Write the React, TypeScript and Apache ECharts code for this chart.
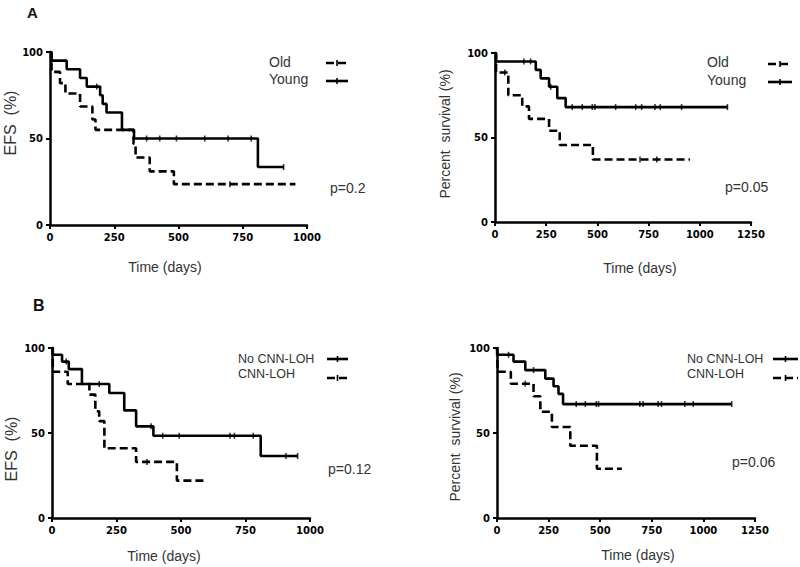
import React, { useEffect, useRef } from "react";
import * as echarts from "echarts";

// ---- Data ----
// Each curve: [time (days), survival (%) after the event]
const efsOldSteps: [number, number][] = [[0, 100], [6, 88.5], [39, 82], [60, 76], [117, 68.5], [165, 61], [177, 55], [325, 47], [333, 39], [388, 31], [482, 23.6]];
const efsOldEnd = 955;
const efsOldCensor = [700];

const efsYoungSteps: [number, number][] = [[0, 100], [6, 95], [65, 90], [117, 85], [143, 80], [195, 75], [205, 70], [220, 65], [280, 55], [327, 50], [809, 33.5]];
const efsYoungEnd = 909;
const efsYoungCensor = [182, 376, 427, 492, 602, 693, 783, 909];

const osOldSteps: [number, number][] = [[0, 100], [5, 88.5], [65, 75], [133, 68.4], [166, 61], [264, 54], [316, 45.6], [478, 37]];
const osOldEnd = 952;
const osOldCensor = [48, 708, 790];

const osYoungSteps: [number, number][] = [[0, 100], [5, 95], [199, 90], [223, 85], [264, 80], [304, 73.3], [345, 68]];
const osYoungEnd = 1135;
const osYoungCensor = [141, 174, 272, 377, 426, 475, 488, 589, 687, 716, 781, 807, 911, 1135];

const efsNoLohSteps: [number, number][] = [[0, 100], [3, 96], [39, 92], [65, 87.6], [116, 78.8], [222, 73.5], [280, 63.3], [326, 53.9], [393, 48.4], [809, 36.5]];
const efsNoLohEnd = 952;
const efsNoLohCensor = [55, 183, 384, 429, 493, 690, 707, 780, 907, 952];

const efsLohSteps: [number, number][] = [[0, 100], [3, 86], [61, 78.8], [145, 72.6], [168, 62.8], [183, 57], [203, 41], [326, 33], [484, 22]];
const efsLohEnd = 600;
const efsLohCensor = [368];

const osNoLohSteps: [number, number][] = [[0, 100], [3, 96], [80, 92], [137, 87], [234, 82], [274, 77.5], [298, 73], [320, 67]];
const osNoLohEnd = 1137;
const osNoLohCensor = [56, 177, 384, 428, 481, 492, 692, 708, 781, 797, 910, 951, 1137];

const osLohSteps: [number, number][] = [[0, 100], [3, 86], [67, 79], [177, 71.6], [210, 62.5], [266, 53.5], [355, 42.5], [484, 29]];
const osLohEnd = 605;
const osLohCensor = [137];

const yTicks = [0, 50, 100];
const xMaxEfs = 1000;
const xMaxOs = 1250;
const xInterval = 250;

const pValues = ["p=0.2", "p=0.05", "p=0.12", "p=0.06"];

// ---- helpers ----
function curveData(steps: [number, number][], end: number) {
  const last = steps[steps.length - 1][1];
  return [...steps, [end, last]];
}
function survivalAt(steps: [number, number][], t: number) {
  let s = 100;
  for (const [tt, v] of steps) if (tt <= t) s = v;
  return s;
}
function censorData(steps: [number, number][], times: number[]) {
  return times.map((t) => [t, survivalAt(steps, t)]);
}

const FONT = "'Liberation Sans', Arial, sans-serif";
const TICKFONT = "'DejaVu Sans', 'Liberation Sans', sans-serif";

export default function App() {
  const ref = useRef<HTMLDivElement>(null);
  useEffect(() => {
    if (!ref.current) return;
    const chart = echarts.init(ref.current, undefined, { renderer: "svg" });

    const grids = [
      { left: 50, top: 52, width: 257, height: 173 },
      { left: 495, top: 53, width: 256, height: 169 },
      { left: 52, top: 348, width: 258, height: 170 },
      { left: 497, top: 348, width: 258, height: 170 },
    ];
    const xMaxes = [xMaxEfs, xMaxOs, xMaxEfs, xMaxOs];

    const axisCommon = {
      axisLine: { show: true, onZero: false, lineStyle: { color: "#000", width: 2.5 } },
      axisTick: { show: true, length: 4, lineStyle: { color: "#000", width: 2 } },
      splitLine: { show: false },
      axisLabel: {
        color: "#000",
        fontFamily: TICKFONT,
        fontWeight: "bold",
        fontSize: 10,
        margin: 7,
        formatter: (v: number) => String(v),
      },
    };

    const xAxis = grids.map((_, i) => ({
      type: "value",
      gridIndex: i,
      min: 0,
      max: xMaxes[i],
      interval: xInterval,
      ...axisCommon,
    }));
    const yAxis = grids.map((_, i) => ({
      type: "value",
      gridIndex: i,
      min: yTicks[0],
      max: yTicks[yTicks.length - 1],
      interval: yTicks[1] - yTicks[0],
      ...axisCommon,
    }));

    const panels = [
      [
        { name: "Old", steps: efsOldSteps, end: efsOldEnd, censor: efsOldCensor, dashed: true },
        { name: "Young", steps: efsYoungSteps, end: efsYoungEnd, censor: efsYoungCensor, dashed: false },
      ],
      [
        { name: "Old", steps: osOldSteps, end: osOldEnd, censor: osOldCensor, dashed: true },
        { name: "Young", steps: osYoungSteps, end: osYoungEnd, censor: osYoungCensor, dashed: false },
      ],
      [
        { name: "No CNN-LOH", steps: efsNoLohSteps, end: efsNoLohEnd, censor: efsNoLohCensor, dashed: false },
        { name: "CNN-LOH", steps: efsLohSteps, end: efsLohEnd, censor: efsLohCensor, dashed: true },
      ],
      [
        { name: "No CNN-LOH", steps: osNoLohSteps, end: osNoLohEnd, censor: osNoLohCensor, dashed: false },
        { name: "CNN-LOH", steps: osLohSteps, end: osLohEnd, censor: osLohCensor, dashed: true },
      ],
    ];

    const series: any[] = [];
    panels.forEach((p, i) => {
      p.forEach((c) => {
        series.push({
          type: "line",
          name: c.name,
          xAxisIndex: i,
          yAxisIndex: i,
          step: "end",
          showSymbol: false,
          symbol: "none",
          data: curveData(c.steps, c.end),
          lineStyle: { color: "#000", width: 2.6, type: c.dashed ? [8, 4] : "solid" },
          z: 3,
        });
        series.push({
          type: "scatter",
          name: c.name + " censored",
          xAxisIndex: i,
          yAxisIndex: i,
          symbol: "rect",
          symbolSize: [1.6, 6],
          itemStyle: { color: "#000" },
          data: censorData(c.steps, c.censor),
          z: 4,
        });
      });
    });

    const txt = (text: string, x: number, y: number, size: number, extra: any = {}) => ({
      type: "text",
      x,
      y,
      style: {
        text,
        fill: "#333",
        font: `${size}px ${FONT}`,
        textAlign: "left",
        textVerticalAlign: "middle",
        ...extra,
      },
    });
    const sample = (x1: number, x2: number, y: number, dashed: boolean) => [
      {
        type: "line",
        shape: { x1, y1: y, x2, y2: y },
        style: { stroke: "#000", lineWidth: 2.6, lineDash: dashed ? [8, 4] : null },
      },
      {
        type: "rect",
        shape: { x: (x1 + x2) / 2 - 0.8, y: y - 3, width: 1.6, height: 6 },
        style: { fill: "#000" },
      },
    ];
    const vtxt = (text: string, x: number, y: number, size: number) => ({
      type: "text",
      x,
      y,
      rotation: Math.PI / 2,
      style: {
        text,
        fill: "#333",
        font: `${size}px ${FONT}`,
        textAlign: "center",
        textVerticalAlign: "middle",
      },
    });

    const graphic: any[] = [
      txt("A", 27, 12, 15, { font: `bold 15px ${FONT}`, fill: "#111" }),
      txt("B", 33, 305, 16, { font: `bold 16px ${FONT}`, fill: "#111" }),
      // legends
      txt("Old", 269, 62, 14),
      txt("Young", 269, 79, 14),
      ...sample(326, 348, 63, true),
      ...sample(326, 348, 81, false),
      txt("Old", 707, 62, 14),
      txt("Young", 707, 80, 14),
      ...sample(768, 792, 64, true),
      ...sample(768, 792, 82, false),
      txt("No CNN-LOH", 238, 359, 12.5),
      txt("CNN-LOH", 238, 374, 12.5),
      ...sample(327, 348, 359, false),
      ...sample(327, 348, 378, true),
      txt("No CNN-LOH", 687, 359, 12.5),
      txt("CNN-LOH", 687, 374, 12.5),
      ...sample(773, 798, 359, false),
      ...sample(773, 798, 378, true),
      // p values
      txt(pValues[0], 330, 188, 14),
      txt(pValues[1], 725, 187, 14),
      txt(pValues[2], 328, 469, 14),
      txt(pValues[3], 732, 462, 14),
      // axis titles
      txt("Time (days)", 165, 267, 14, { textAlign: "center" }),
      txt("Time (days)", 640, 268, 14, { textAlign: "center" }),
      txt("Time (days)", 164, 556, 14, { textAlign: "center" }),
      txt("Time (days)", 638, 555, 14, { textAlign: "center" }),
      vtxt("EFS  (%)", 10, 123, 16),
      vtxt("Percent  survival (%)", 445, 134, 14),
      vtxt("EFS  (%)", 11, 449, 16),
      vtxt("Percent  survival (%)", 455, 437, 14),
    ];

    chart.setOption({
      animation: false,
      backgroundColor: "#fff",
      grid: grids.map((g) => ({ ...g, containLabel: false })),
      xAxis,
      yAxis,
      series,
      graphic,
    });
    return () => chart.dispose();
  }, []);
  return <div ref={ref} style={{ position: "absolute", left: 0, top: 0, width: 800, height: 567 }} />;
}
